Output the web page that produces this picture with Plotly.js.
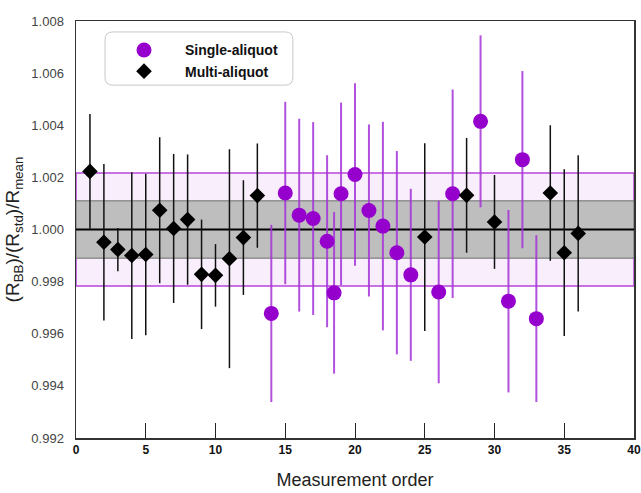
<!DOCTYPE html>
<html>
<head>
<meta charset="utf-8">
<script src="https://cdn.plot.ly/plotly-3.0.1.min.js"></script>
<style>html,body{margin:0;padding:0;background:#fff;}#chart{width:641px;height:493px;}</style>
</head>
<body>
<div id="chart"></div>
<script>
// ---- data ----
const singleX = [14, 15, 16, 17, 18, 18.5, 19, 20, 21, 22, 23, 24, 26, 27, 29, 31, 32, 33];
const singleY = [0.99678, 1.00140, 1.00055, 1.00042, 0.99955, 0.99757, 1.00137, 1.00211, 1.00073, 1.00013, 0.99911, 0.99826, 0.99760, 1.00137, 1.00415, 0.99725, 1.00268, 0.99658];
const singleErr = [0.0034, 0.0035, 0.0037, 0.0037, 0.0033, 0.0031, 0.0035, 0.0035, 0.0033, 0.0040, 0.0039, 0.0033, 0.0035, 0.0040, 0.0033, 0.0035, 0.0034, 0.0032];

const multiX = [1, 2, 3, 4, 5, 6, 7, 8, 9, 10, 11, 12, 13, 25, 28, 30, 34, 35, 36];
const multiY = [1.00223, 0.99951, 0.99923, 0.99900, 0.99904, 1.00074, 1.00004, 1.00038, 0.99828, 0.99824, 0.99888, 0.99969, 1.00130, 0.99971, 1.00131, 1.00029, 1.00140, 0.99911, 0.99985];
const multiErr = [0.0022, 0.0030, 0.00083, 0.0032, 0.0031, 0.0028, 0.00286, 0.0025, 0.0021, 0.0012, 0.0042, 0.0022, 0.0020, 0.0036, 0.0022, 0.0018, 0.0026, 0.0032, 0.0030];

const meanValue = 1.0;
const outerBand = 0.00217;   // half-width of pink band
const innerBand = 0.0011;    // half-width of grey band
const xRange = [0, 40];
const yRange = [0.992, 1.008];
const xTicks = [0, 5, 10, 15, 20, 25, 30, 35, 40];
const yTicks = [0.992, 0.994, 0.996, 0.998, 1.000, 1.002, 1.004, 1.006, 1.008];

const FONT = '"Liberation Sans", Arial, sans-serif';

const traces = [
  {
    name: 'Single-aliquot',
    x: singleX, y: singleY, type: 'scatter', mode: 'markers',
    marker: {symbol: 'circle', size: 15, color: 'rgb(150,0,205)'},
    error_y: {type: 'data', array: singleErr, visible: true, color: 'rgba(165,50,215,0.85)', thickness: 2, width: 0}
  },
  {
    name: 'Multi-aliquot',
    x: multiX, y: multiY, type: 'scatter', mode: 'markers',
    marker: {symbol: 'diamond', size: 12, color: '#000'},
    error_y: {type: 'data', array: multiErr, visible: true, color: '#111', thickness: 1.5, width: 0}
  }
];

// legend box with rounded corners (data coords)
const lx0 = 2.08, lx1 = 15.55, ly0 = 1.00554, ly1 = 1.00758, rx = 0.55, ry = 0.0003;
const legendPath = `M ${lx0+rx},${ly1} L ${lx1-rx},${ly1} Q ${lx1},${ly1} ${lx1},${ly1-ry} L ${lx1},${ly0+ry} Q ${lx1},${ly0} ${lx1-rx},${ly0} L ${lx0+rx},${ly0} Q ${lx0},${ly0} ${lx0},${ly0+ry} L ${lx0},${ly1-ry} Q ${lx0},${ly1} ${lx0+rx},${ly1} Z`;

const shapes = [
  {type: 'rect', xref: 'x', yref: 'y', x0: xRange[0], x1: xRange[1], y0: meanValue - outerBand, y1: meanValue + outerBand,
   fillcolor: 'rgb(249,238,252)', line: {color: 'rgb(185,70,220)', width: 1.5}, layer: 'below'},
  {type: 'rect', xref: 'x', yref: 'y', x0: xRange[0], x1: xRange[1], y0: meanValue - innerBand, y1: meanValue + innerBand,
   fillcolor: 'rgb(190,190,190)', line: {color: 'rgb(110,110,110)', width: 1}, layer: 'below'},
  {type: 'line', xref: 'x', yref: 'y', x0: xRange[0], x1: xRange[1], y0: meanValue, y1: meanValue,
   line: {color: '#000', width: 2}, layer: 'below'},
  {type: 'path', xref: 'x', yref: 'y', path: legendPath, fillcolor: 'rgba(255,255,255,0)', line: {color: '#c8c8c8', width: 1}, layer: 'above'}
];

const layout = {
  width: 641, height: 493,
  margin: {l: 76, r: 7, t: 21, b: 55},
  paper_bgcolor: '#fff', plot_bgcolor: '#fff',
  font: {family: FONT, color: '#222'},
  showlegend: true,
  legend: {x: 0.0484, y: 0.968, xanchor: 'left', yanchor: 'top', bgcolor: 'rgba(0,0,0,0)', borderwidth: 0,
           font: {family: FONT, size: 14, color: '#111', weight: 'bold'}, itemwidth: 72, tracegroupgap: 0},
  xaxis: {
    range: xRange, tickvals: xTicks, ticktext: xTicks.map(String),
    ticks: 'inside', ticklen: 15, tickwidth: 1, tickcolor: '#222',
    showgrid: false, zeroline: false, showline: true, linecolor: '#333', linewidth: 1.5, mirror: true,
    tickfont: {family: FONT, size: 12, color: '#111', weight: 'bold'},
    title: {text: 'Measurement order', font: {family: FONT, size: 18, color: '#222'}, standoff: 17}
  },
  yaxis: {
    range: yRange, tickvals: yTicks, ticktext: yTicks.map(v => v.toFixed(3)),
    ticks: '', showgrid: false, zeroline: false, showline: true, linecolor: '#333', linewidth: 1.5, mirror: true,
    ticklabelstandoff: 8,
    tickfont: {family: FONT, size: 13, color: '#444'},
    title: {text: '(R<sub>BB</sub>)/(R<sub>std</sub>)/R<sub>mean</sub>', font: {family: FONT, size: 19, color: '#222'}, standoff: 6}
  },
  shapes: shapes
};

Plotly.newPlot('chart', traces, layout, {displayModeBar: false, staticPlot: true});
</script>
</body>
</html>
